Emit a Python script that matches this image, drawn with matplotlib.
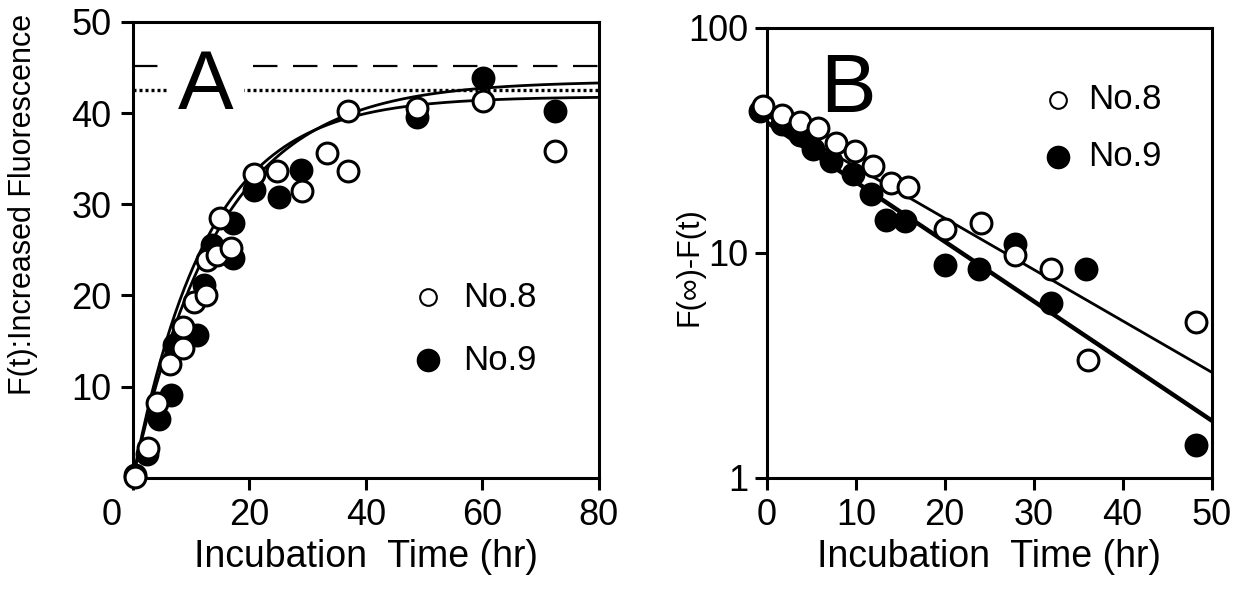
import numpy as np
import matplotlib
matplotlib.use("Agg")
import matplotlib.pyplot as plt
import matplotlib.transforms as mtransforms

plt.rcParams['font.family'] = ['Liberation Sans', 'DejaVu Sans']

# Panel A: increased fluorescence vs incubation time
a_t8 = [0.3, 2.6, 4.2, 6.4, 8.5, 8.5, 10.4, 12.5, 12.7, 14.5, 14.9, 16.8,
        20.8, 24.8, 29.0, 33.3, 37.0, 37.0, 48.7, 60.1, 72.4]
a_f8 = [0.1, 3.3, 8.2, 12.5, 14.2, 16.5, 19.3, 20.1, 23.9, 24.4, 28.5, 25.2,
        33.3, 33.6, 31.4, 35.6, 33.6, 40.2, 40.5, 41.3, 35.8]
a_t9 = [0.3, 2.4, 4.4, 6.5, 7.0, 11.0, 12.2, 13.5, 17.2, 17.2, 20.8, 25.0,
        28.8, 48.7, 60.1, 72.4]
a_f9 = [0.3, 2.6, 6.5, 9.1, 14.6, 15.7, 21.2, 25.5, 27.9, 24.1, 31.6, 30.8,
        33.8, 39.6, 43.8, 40.2]

# fitted curves F(t) = Finf * (1 - exp(-k t))
fit8_finf, fit8_k = 41.8, 0.078
fit9_finf, fit9_k = 43.5, 0.067
dashed_level = 45.2
dotted_level = 42.5

# Panel B: F(inf) - F(t) on log scale
b_t8 = [-0.4, 1.65, 3.7, 5.8, 7.8, 9.9, 11.9, 14.0, 15.9, 20.0, 24.1, 27.9,
        32.0, 36.1, 48.3]
b_f8 = [44.7, 41.0, 38.3, 35.8, 30.7, 28.2, 24.2, 20.4, 19.7, 12.7, 13.5, 9.8,
        8.5, 3.35, 4.95]
b_t9 = [-0.8, 1.7, 3.7, 5.2, 7.2, 9.7, 11.7, 13.4, 15.5, 20.0, 23.9, 27.9,
        32.0, 35.9, 48.3]
b_f9 = [42.5, 37.5, 33.5, 28.9, 25.5, 22.5, 18.3, 14.0, 13.8, 8.85, 8.5, 10.9,
        5.97, 8.5, 1.40]

# regression lines (end points)
line8_t, line8_f = [0, 50], [40.7, 2.95]
line9_t, line9_f = [0, 50], [38.0, 1.8]

fig = plt.figure(figsize=(12.49, 5.90), dpi=100)
axA = fig.add_axes([0.1065, 0.19, 0.373, 0.773])
axB = fig.add_axes([0.614, 0.19, 0.356, 0.763])

tick_fs = 26
label_fs = 27
ms = 15
mew = 2.2

for ax in (axA, axB):
    for s in ax.spines.values():
        s.set_linewidth(2.2)
    ax.tick_params(direction='out', length=8.5, width=2.2, labelsize=tick_fs)
    ax.tick_params(axis='x', pad=6)
    ax.tick_params(axis='y', pad=7)

# ---- A ----
tt = np.linspace(0, 80, 400)
axA.axhline(dashed_level, color='black', lw=1.6, dashes=(11, 7), zorder=1)
axA.axhline(dotted_level, color='black', lw=2.4, dashes=(0.9, 0.9), zorder=1)
axA.plot(tt, fit8_finf * (1 - np.exp(-fit8_k * tt)), color='black', lw=2.0, zorder=2)
axA.plot(tt, fit9_finf * (1 - np.exp(-fit9_k * tt)), color='black', lw=2.0, zorder=2)
axA.plot(a_t9, a_f9, 'o', ms=ms, mfc='black', mec='black', mew=mew, zorder=3, clip_on=False)
axA.plot(a_t8, a_f8, 'o', ms=ms, mfc='white', mec='black', mew=mew, zorder=4, clip_on=False)

axA.text(12.5, 40.4, 'A', fontsize=60, ha='center', va='baseline', zorder=5,
         bbox=dict(boxstyle='square,pad=0.12', fc='white', ec='none'))

axA.plot([50.6], [19.8], 'o', ms=12, mfc='white', mec='black', mew=1.5)
axA.plot([50.6], [12.9], 'o', ms=16, mfc='black', mec='black')
axA.text(56.6, 19.8, 'No.8', fontsize=25, va='center', ha='left')
axA.text(56.6, 12.9, 'No.9', fontsize=25, va='center', ha='left')

axA.set_xlim(0, 80)
axA.set_ylim(0, 50)
axA.set_xticks([0, 20, 40, 60, 80])
axA.set_xticklabels(['', '20', '40', '60', '80'])
axA.set_yticks([10, 20, 30, 40, 50])
zero_tr = mtransforms.offset_copy(axA.get_xaxis_transform(), fig=fig, x=0, y=-14.5, units='points')
axA.text(-3.6, 0, '0', transform=zero_tr, fontsize=tick_fs, ha='center', va='top')
axA.set_xlabel('Incubation  Time (hr)', fontsize=label_fs, labelpad=4)
axA.set_ylabel('F(t):Increased Fluorescence', fontsize=22)
axA.yaxis.set_label_coords(-0.205, 0.60)

# ---- B ----
axB.set_yscale('log')
axB.plot(line8_t, line8_f, color='black', lw=2.0, zorder=2)
axB.plot(line9_t, line9_f, color='black', lw=3.2, zorder=2)
axB.plot(b_t9, b_f9, 'o', ms=ms, mfc='black', mec='black', mew=mew, zorder=3, clip_on=False)
axB.plot(b_t8, b_f8, 'o', ms=ms, mfc='white', mec='black', mew=mew, zorder=4, clip_on=False)

axB.text(9.1, 42.4, 'B', fontsize=60, ha='center', va='baseline', zorder=5)
axB.plot([32.7], [47.9], 'o', ms=12, mfc='white', mec='black', mew=1.5)
axB.plot([32.7], [26.7], 'o', ms=16, mfc='black', mec='black')
axB.text(36.1, 47.9, 'No.8', fontsize=25, va='center', ha='left')
axB.text(36.1, 26.7, 'No.9', fontsize=25, va='center', ha='left')

axB.set_xlim(0, 50)
axB.set_ylim(1, 100)
axB.set_xticks([0, 10, 20, 30, 40, 50])
axB.set_yticks([1, 10, 100])
axB.set_yticklabels(['1', '10', '100'])
axB.yaxis.set_minor_locator(matplotlib.ticker.NullLocator())
axB.tick_params(axis='y', pad=5)
axB.set_xlabel('Incubation  Time (hr)', fontsize=label_fs, labelpad=4)
axB.set_ylabel('F(\u221e)-F(t)', fontsize=22)
axB.yaxis.set_label_coords(-0.14, 0.47)

fig.savefig('out.png', dpi=100, facecolor='white')
